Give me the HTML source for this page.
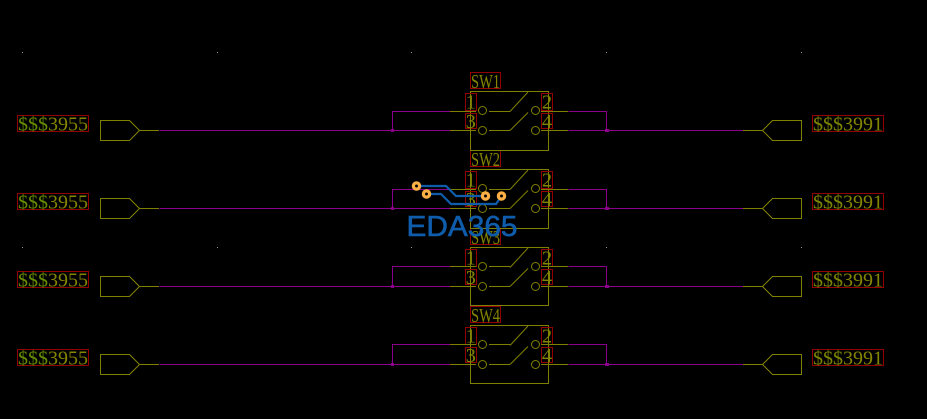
<!DOCTYPE html>
<html><head><meta charset="utf-8"><style>
html,body{margin:0;padding:0;background:#000;width:927px;height:419px;overflow:hidden}
svg{display:block}
text{font-family:"Liberation Serif",serif;fill:#858500;font-size:20.5px}
.d{fill:#668c00}
.e{fill:#7d8500}
.p{text-anchor:middle}
</style></head><body>
<svg width="927" height="419" viewBox="0 0 927 419" xmlns="http://www.w3.org/2000/svg" shape-rendering="crispEdges">
<g fill="#999">
<rect x="22" y="52" width="1" height="1"/><rect x="217" y="52" width="1" height="1"/><rect x="411" y="52" width="1" height="1"/><rect x="606" y="52" width="1" height="1"/><rect x="801" y="52" width="1" height="1"/>
<rect x="22" y="247" width="1" height="1"/><rect x="217" y="247" width="1" height="1"/><rect x="411" y="247" width="1" height="1"/><rect x="606" y="247" width="1" height="1"/><rect x="801" y="247" width="1" height="1"/>
</g>
<defs>
<g id="row" fill="none">
<rect x="391" y="129" width="3" height="3" fill="#8b008b"/><rect x="605" y="129" width="4" height="3" fill="#8b008b"/>
<g stroke="#8b008b">
<path d="M159.5 130.5H450.5M568.5 130.5H743.5"/>
</g>
<g stroke="#808000">
<path d="M450 130.5H476M489 130.5H510M541 130.5H568M743 130.5H762.5M139.5 130.5H159"/>
<path d="M100.5 120.5H129.5L139.5 130.5L129.5 140.5H100.5Z"/>
<path d="M801.5 120.5H772.5L762.5 130.5L772.5 140.5H801.5Z"/>
<path d="M470.5 119V91.5H548.5V119"/>
<g shape-rendering="geometricPrecision">
<path d="M510 130.5L528 112.5M510 111.5L528 92"/>
<circle cx="482.5" cy="130.5" r="4"/>
<circle cx="535.5" cy="130.5" r="4"/>
<circle cx="482.5" cy="110.5" r="4"/>
<circle cx="535.5" cy="110.5" r="4"/>
</g>
</g>
<g stroke="#930000">
<rect x="17.5" y="115.5" width="71" height="16"/>
<rect x="812.5" y="115.5" width="71" height="16"/>
<rect x="465.5" y="93.5" width="11" height="17"/>
<rect x="465.5" y="113.5" width="11" height="15"/>
<rect x="541.5" y="93.5" width="11" height="17"/>
<rect x="541.5" y="113.5" width="11" height="15"/>
<rect x="470.5" y="72.5" width="30" height="16"/>
</g>
</g>
<path id="top" fill="none" stroke="#8b008b" d="M392.5 130V111.5H450.5M568.5 111.5H606.5V130"/>
<path id="pinT" fill="none" stroke="#808000" d="M450 111.5H476M489 111.5H510M541 111.5H568"/>
<path id="box" fill="none" stroke="#808000" d="M470.5 119V150.5H548.5V119"/>
</defs>
<use href="#row"/><use href="#row" y="78"/><use href="#row" y="156"/><use href="#row" y="234"/>
<use href="#top"/><use href="#pinT"/><use href="#box"/>
<use href="#top" y="78"/><use href="#pinT" y="78"/><use href="#box" y="78"/>
<path fill="none" stroke="#8b008b" d="M392.5 286V266.5H450.5M568.5 266.5H606.5V286"/><use href="#pinT" y="155"/><use href="#box" y="155"/>
<path fill="none" stroke="#8b008b" d="M392.5 364V344.5H450.5M568.5 344.5H606.5V364"/><use href="#pinT" y="233"/><use href="#box" y="233"/>
<g id="labels" shape-rendering="geometricPrecision">
<text x="18" y="130.5" textLength="70" lengthAdjust="spacingAndGlyphs"><tspan class="d">$$$</tspan>3955</text>
<text x="813" y="130.5" textLength="70" lengthAdjust="spacingAndGlyphs"><tspan class="e">$$$</tspan>3991</text>
<text class="p" x="470.7" y="108.5">1</text><text class="p" x="470.7" y="128">3</text><text class="p" x="547" y="108.5">2</text><text class="p" x="547" y="128">4</text>
<text x="471" y="88" textLength="29" lengthAdjust="spacingAndGlyphs">SW1</text>

<text x="18" y="208.5" textLength="70" lengthAdjust="spacingAndGlyphs"><tspan class="d">$$$</tspan>3955</text>
<text x="813" y="208.5" textLength="70" lengthAdjust="spacingAndGlyphs"><tspan class="e">$$$</tspan>3991</text>
<text class="p" x="470.7" y="186.5">1</text><text class="p" x="470.7" y="206">3</text><text class="p" x="547" y="186.5">2</text><text class="p" x="547" y="206">4</text>
<text x="471" y="166" textLength="29" lengthAdjust="spacingAndGlyphs">SW2</text>

<text x="18" y="286.5" textLength="70" lengthAdjust="spacingAndGlyphs"><tspan class="d">$$$</tspan>3955</text>
<text x="813" y="286.5" textLength="70" lengthAdjust="spacingAndGlyphs"><tspan class="e">$$$</tspan>3991</text>
<text class="p" x="470.7" y="264.5">1</text><text class="p" x="470.7" y="284">3</text><text class="p" x="547" y="264.5">2</text><text class="p" x="547" y="284">4</text>
<text x="471" y="244" textLength="29" lengthAdjust="spacingAndGlyphs">SW3</text>

<text x="18" y="364.5" textLength="70" lengthAdjust="spacingAndGlyphs"><tspan class="d">$$$</tspan>3955</text>
<text x="813" y="364.5" textLength="70" lengthAdjust="spacingAndGlyphs"><tspan class="e">$$$</tspan>3991</text>
<text class="p" x="470.7" y="342.5">1</text><text class="p" x="470.7" y="362">3</text><text class="p" x="547" y="342.5">2</text><text class="p" x="547" y="362">4</text>
<text x="471" y="322" textLength="29" lengthAdjust="spacingAndGlyphs">SW4</text>
</g>
<g shape-rendering="geometricPrecision">
<path d="M416.5 186H446L456 196H485.5M426.5 194H441L451 204H496L501.5 196" fill="none" stroke="#0f5cab" stroke-width="2.2"/>
<g fill="#000" stroke="#fdb045" stroke-width="3.3">
<circle cx="416.5" cy="186" r="3.1"/><circle cx="426.5" cy="194" r="3.1"/><circle cx="485.5" cy="196" r="3.1"/><circle cx="501.5" cy="196" r="3.1"/>
</g>
<text x="406.5" y="236" textLength="111" lengthAdjust="spacingAndGlyphs" style="font-family:'Liberation Sans',sans-serif;font-size:29px;fill:#0f5cab;stroke:#0f5cab;stroke-width:.6">EDA365</text>
</g>
</svg>
</body></html>
